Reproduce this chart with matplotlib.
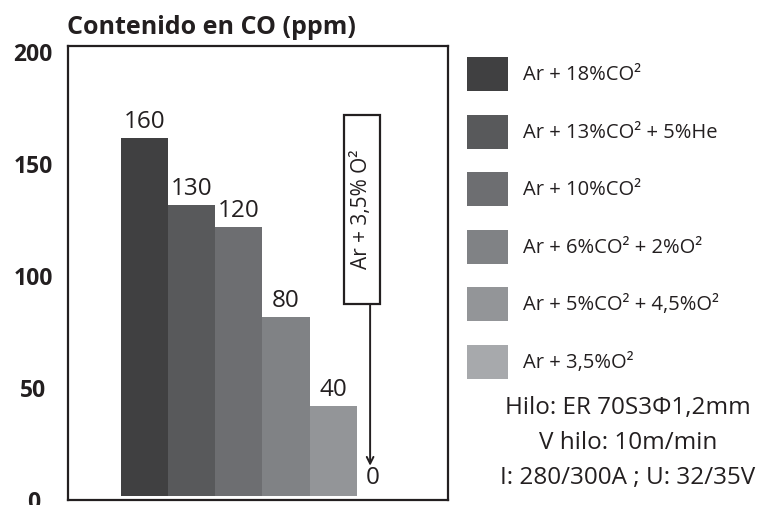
import matplotlib.pyplot as plt
import matplotlib.transforms as mtransforms
from matplotlib.patches import Patch, Rectangle

plt.rcParams['font.family'] = ['Open Sans', 'DejaVu Sans']

gases = ['Ar + 18%CO²', 'Ar + 13%CO² + 5%He', 'Ar + 10%CO²',
         'Ar + 6%CO² + 2%O²', 'Ar + 5%CO² + 4,5%O²', 'Ar + 3,5%O²']
co_ppm = [160, 130, 120, 80, 40, 0]
colors = ['#404041', '#58595b', '#6d6e71', '#808285', '#939598', '#a7a9ac']
yticks = [0, 50, 100, 150, 200]
box_text = 'Ar + 3,5% O²'
notes = ['Hilo: ER 70S3Φ1,2mm', 'V hilo: 10m/min', 'I: 280/300A ; U: 32/35V']

fig = plt.figure(figsize=(7.61, 5.05), dpi=100)
ax = fig.add_axes([68 / 761, 5 / 505, 380 / 761, 454 / 505])

# first five gases are real bars, the last one (0 ppm) gets the boxed arrow
bars = ax.bar(range(5), co_ppm[:5], width=1.0, color=colors[:5])
ax.bar_label(bars, labels=[str(v) for v in co_ppm[:5]], padding=3,
             fontsize=17.5, color='#231f20')

ax.set_xlim(-1.62, 6.43)
ax.set_ylim(-1.8, 201)
ax.set_xticks([])
ax.set_yticks(yticks)
ax.set_yticklabels([str(t) for t in yticks], fontsize=16.5, fontweight='bold',
                   color='#231f20')
ax.tick_params(axis='y', length=0, pad=25)
for lbl in ax.get_yticklabels():
    lbl.set_horizontalalignment('center')
    lbl.set_transform(lbl.get_transform() +
                      mtransforms.ScaledTranslation(0, -3 / 72, fig.dpi_scale_trans))
for sp in ax.spines.values():
    sp.set_linewidth(1.6)
    sp.set_color('#231f20')

# boxed label + arrow for the 0 ppm case
bx = 4.78
ax.add_patch(Rectangle((4.22, 85.7), 0.77, 84.5, fill=False,
                       edgecolor='#231f20', linewidth=1.6))
ax.text(4.6, 128, box_text, rotation=90, ha='center', va='center',
        fontsize=15, color='#231f20')
ax.annotate('', xy=(bx, 13.5), xytext=(bx, 85.7),
            arrowprops=dict(arrowstyle='->', color='#231f20', lw=1.4,
                            mutation_scale=12, shrinkA=0, shrinkB=0))
ax.text(bx + 0.05, 2.5, str(co_ppm[5]), ha='center', va='bottom',
        fontsize=17.5, color='#231f20')

fig.text(67 / 761, 1 - 27 / 505, 'Contenido en CO (ppm)', ha='left',
         va='center', fontsize=18, fontweight='bold', color='#231f20')

handles = [Patch(facecolor=c, edgecolor='none') for c in colors]
fs = 14.5
fs_px = fs * 100 / 72
# legend row height = fs*(0.65*hh + 0.245)
hh = (34 / fs_px - 0.245) / 0.65
ax.legend(handles, gases, loc='upper left',
          bbox_to_anchor=(467 / 761, 1 - 57 / 505), bbox_transform=fig.transFigure,
          frameon=False, fontsize=fs, borderpad=0, borderaxespad=0,
          handlelength=41 / fs_px, handleheight=hh,
          labelspacing=23.5 / fs_px, handletextpad=15 / fs_px,
          labelcolor='#231f20')

for i, line in enumerate(notes):
    fig.text(628 / 761, 1 - (408 + 35 * i) / 505, line, ha='center',
             va='center', fontsize=17.5, color='#231f20')

fig.savefig('out.png', dpi=100)
